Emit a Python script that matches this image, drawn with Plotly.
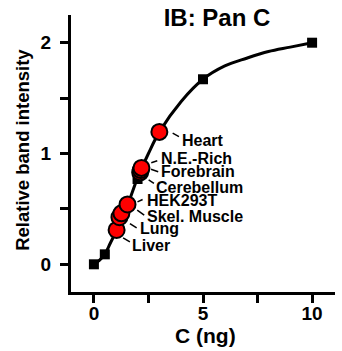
import plotly.graph_objects as go

# Standard curve (black squares)
std_conc = [0, 0.5, 1, 2, 5, 10]
std_intensity = [0, 0.09, 0.29, 0.77, 1.67, 2.0]

# Fitted curve
curve_conc = [0, 0.25, 0.5, 0.75, 1.0, 1.5, 2.0, 2.5, 3.0, 4.0, 5.0, 6.0, 7.0, 8.0, 9.0, 10.0]
curve_intensity = [0, 0.035, 0.09, 0.19, 0.29, 0.51, 0.78, 1.0, 1.195, 1.47, 1.67, 1.79, 1.86, 1.92, 1.96, 2.0]

# Tissue samples (red circles)
sample_names = ["Liver", "Lung", "Skel. Muscle", "HEK293T", "Cerebellum", "Forebrain", "N.E.-Rich", "Heart"]
sample_conc = [1.04, 1.17, 1.26, 1.54, 2.12, 2.15, 2.18, 3.0]
sample_intensity = [0.31, 0.425, 0.46, 0.54, 0.83, 0.85, 0.87, 1.195]

x_ticks = [0, 5, 10]
y_ticks = [0, 1, 2]

# label layout (pixel offsets from each circle): leader (dx0, dy0, dx1, dy1), text (xshift, yshift)
label_style = {
    "Liver": ((6.5, -8, 13.3, -12), (14.6, -16)),
    "Lung": ((10.5, -6.3, 17.2, -10.7), (19.5, -11.2)),
    "Skel. Muscle": ((15.8, 3.2, 22.8, -1.8), (24.8, -3.2)),
    "HEK293T": ((10, 2.6, 15.1, 5), (18.7, 4.3)),
    "Cerebellum": ((8.5, -7.5, 13.8, -11), (15.1, -15)),
    "Forebrain": ((10.2, 0.8, 17.4, -1.6), (18.8, -1.6)),
    "N.E.-Rich": ((9.8, 5.2, 15.8, 7.2), (18.2, 9.2)),
    "Heart": ((13.3, -1.3, 19.6, -4.7), (21.6, -8.7)),
}

FONT = "Liberation Sans, Arial, Helvetica, sans-serif"

fig = go.Figure()
fig.add_trace(go.Scatter(x=curve_conc, y=curve_intensity, mode="lines",
                         line=dict(color="black", width=3, shape="spline"),
                         hoverinfo="skip", showlegend=False))
fig.add_trace(go.Scatter(x=std_conc, y=std_intensity, mode="markers",
                         marker=dict(symbol="square", size=10, color="black"),
                         showlegend=False))
fig.add_trace(go.Scatter(x=sample_conc, y=sample_intensity, mode="markers",
                         marker=dict(symbol="circle", size=16, color="#ff0000",
                                     line=dict(color="black", width=2)),
                         text=sample_names, showlegend=False))

shapes = []
annotations = []
for name, cx, cy in zip(sample_names, sample_conc, sample_intensity):
    (dx0, dy0, dx1, dy1), (tx, ty) = label_style[name]
    shapes.append(dict(type="line", xref="x", yref="y", xsizemode="pixel", ysizemode="pixel",
                       xanchor=cx, yanchor=cy, x0=dx0, x1=dx1, y0=dy0, y1=dy1,
                       line=dict(color="black", width=1.5)))
    annotations.append(dict(x=cx, y=cy, xref="x", yref="y", text=name, showarrow=False,
                            xanchor="left", yanchor="middle", xshift=tx, yshift=ty,
                            borderpad=0,
                            font=dict(family=FONT, size=16, color="black", weight="bold")))

annotations.append(dict(text="C (ng)", xref="paper", yref="paper", x=0.508, y=-0.158,
                        xanchor="center", yanchor="middle", showarrow=False,
                        font=dict(family=FONT, size=21, color="black", weight="bold")))
annotations.append(dict(text="Relative band intensity", xref="paper", yref="paper",
                        x=-0.182, y=0.513, xanchor="center", yanchor="middle",
                        textangle=-90, showarrow=False,
                        font=dict(family=FONT, size=18.5, color="black", weight="bold")))

axis_common = dict(showline=True, linewidth=3, linecolor="black", showgrid=False,
                   zeroline=False, ticks="outside", ticklen=8, tickwidth=3,
                   tickcolor="black",
                   tickfont=dict(family=FONT, size=19, color="black", weight="bold"))

fig.update_layout(
    width=342, height=351,
    margin=dict(l=71, r=7, t=15, b=59),
    paper_bgcolor="white", plot_bgcolor="white",
    title=dict(text="IB: Pan C", x=0.553, xref="paper", xanchor="center",
               y=1 - 18 / 351, yref="container", yanchor="middle",
               font=dict(family=FONT, size=24, color="black", weight="bold")),
    xaxis=dict(range=[-1.05, 11.05], tickvals=x_ticks, ticklabelstandoff=-6,
               minor=dict(dtick=2.5, tick0=0, ticks="outside", ticklen=8, tickwidth=3,
                          tickcolor="black", showgrid=False),
               **axis_common),
    yaxis=dict(range=[-0.25, 2.25], tickvals=y_ticks, ticklabelstandoff=5,
               minor=dict(dtick=0.5, tick0=0, ticks="outside", ticklen=8, tickwidth=3,
                          tickcolor="black", showgrid=False),
               **axis_common),
    shapes=shapes,
    annotations=annotations,
    showlegend=False,
)

fig.write_html("out.html")
